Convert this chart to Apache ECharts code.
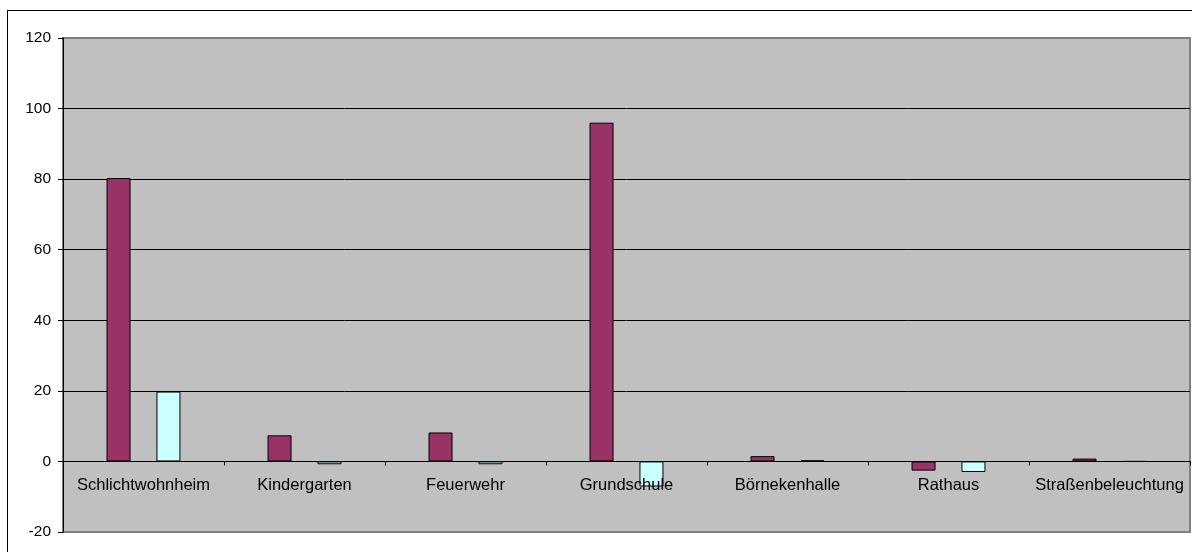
<!DOCTYPE html>
<html>
<head>
<meta charset="utf-8">
<script src="https://cdn.jsdelivr.net/npm/echarts@6/dist/echarts.min.js"></script>
<style>
  html, body { margin: 0; padding: 0; background: #ffffff; overflow: hidden; }
  #chart { position: absolute; left: 0; top: 0; width: 1192px; height: 552px; }
  #frame { position: absolute; left: 7px; top: 10px; width: 1300px; height: 700px;
           border-left: 1px solid #000; border-top: 1px solid #000; pointer-events: none; }
</style>
</head>
<body>
<div id="chart"></div>
<div id="frame"></div>
<script>
// Gebäude / Einrichtungen
const categories = ['Schlichtwohnheim', 'Kindergarten', 'Feuerwehr', 'Grundschule',
                    'Börnekenhalle', 'Rathaus', 'Straßenbeleuchtung'];
// Werte je Reihe
const series1 = [80.3, 7.4, 8.2, 96.0, 1.5, -2.6, 0.8];
const series2 = [19.8, -0.8, -0.8, -7.1, 0.3, -3.0, 0.0];
// Achsenbereich
const yMin = -20, yMax = 120, yStep = 20;

const W = 1192, H = 552;
const gridTop = 38, gridBottom = 20, gridLeft = 63, gridRight = 2;
const gridHeight = H - gridTop - gridBottom;
// Kategorienachse auf der Nulllinie: Abstand vom unteren Rand des Diagramms
const zeroOffset = gridHeight * (0 - yMin) / (yMax - yMin);

const chart = echarts.init(document.getElementById('chart'), null, { renderer: 'canvas' });
const font = '"Liberation Sans", Arial, sans-serif';

chart.setOption({
  animation: false,
  backgroundColor: 'transparent',
  grid: {
    left: gridLeft, top: gridTop, right: gridRight, bottom: gridBottom,
    outerBoundsMode: 'none', containLabel: false,
    show: true, backgroundColor: '#C0C0C0', borderColor: '#808080', borderWidth: 2
  },
  xAxis: {
    type: 'category',
    data: categories,
    boundaryGap: true,
    offset: -zeroOffset,
    z: 10,
    axisLine: { show: true, onZero: false, lineStyle: { color: '#000', width: 1 } },
    axisTick: { show: true, length: 4, inside: false, alignWithLabel: false,
                lineStyle: { color: '#000' } },
    axisLabel: { color: '#000', fontFamily: font, fontSize: 16.5, margin: 16, interval: 0 },
    splitLine: { show: false }
  },
  yAxis: {
    type: 'value',
    min: yMin, max: yMax, interval: yStep,
    axisLine: { show: true, lineStyle: { color: '#000', width: 1 } },
    axisTick: { show: true, length: 5, lineStyle: { color: '#000' } },
    axisLabel: { color: '#000', fontFamily: font, fontSize: 15.5, margin: 12 },
    splitLine: { show: true, lineStyle: {
      color: ['#808080', '#000', '#000', '#000', '#000', '#000', '#000', '#808080'], width: 1 } }
  },
  series: [
    {
      type: 'bar', name: 'Reihe 1', data: series1,
      barWidth: 24, barGap: '108%',
      itemStyle: { color: '#993366', borderColor: '#000', borderWidth: 1 }
    },
    {
      type: 'bar', name: 'Reihe 2', data: series2,
      barWidth: 24, barGap: '108%',
      itemStyle: { color: '#CCFFFF', borderColor: '#000', borderWidth: 1 }
    }
  ]
});
</script>
</body>
</html>
